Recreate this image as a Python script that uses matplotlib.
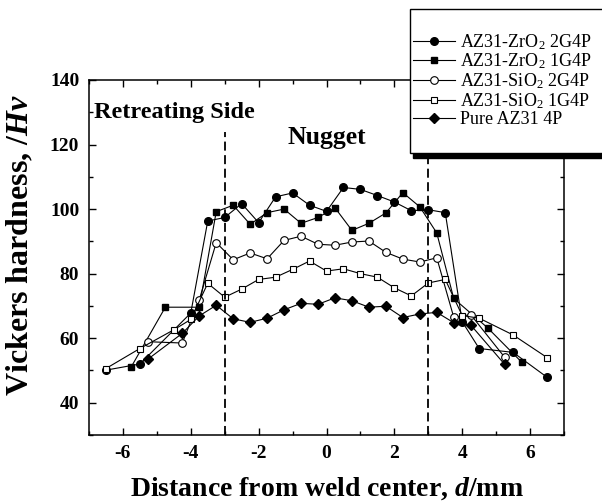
import numpy as np
import matplotlib
matplotlib.use('Agg')
import matplotlib.pyplot as plt
from matplotlib.ticker import MultipleLocator
from matplotlib.patches import Rectangle

plt.rcParams['font.family'] = 'Liberation Serif'
plt.rcParams['mathtext.fontset'] = 'custom'
plt.rcParams['mathtext.rm'] = 'Liberation Serif'
plt.rcParams['mathtext.it'] = 'Liberation Serif:italic:bold'
plt.rcParams['mathtext.bf'] = 'Liberation Serif:bold'
plt.rcParams['axes.unicode_minus'] = False

# hardness profiles (d in mm, Hv)
x_zr2 = [-6.5, -5.5, -4.0, -3.5, -3.0, -2.5, -2.0, -1.5, -1.0, -0.5, 0.0,
         0.5, 1.0, 1.5, 2.0, 2.5, 3.0, 3.5, 4.0, 4.5, 5.5, 6.5]
hv_zr2 = [50.1, 52.0, 67.8, 96.3, 97.4, 101.7, 95.8, 103.8, 105.0, 101.2, 99.3,
          106.7, 106.1, 104.2, 102.2, 99.5, 99.8, 98.9, 65.1, 56.8, 55.6, 47.9]

x_zr1 = [-5.75, -4.75, -3.75, -3.25, -2.75, -2.25, -1.75, -1.25, -0.75, -0.25,
         0.25, 0.75, 1.25, 1.75, 2.25, 2.75, 3.25, 3.75, 4.75, 5.75]
hv_zr1 = [51.2, 69.6, 69.6, 99.2, 101.2, 95.3, 98.9, 100.0, 95.6, 97.4,
          100.4, 93.4, 95.6, 98.8, 105.1, 100.7, 92.6, 72.3, 63.2, 52.6]

x_si2 = [-5.25, -4.25, -3.75, -3.25, -2.75, -2.25, -1.75, -1.25, -0.75, -0.25,
         0.25, 0.75, 1.25, 1.75, 2.25, 2.75, 3.25, 3.75, 4.25, 5.25]
hv_si2 = [58.9, 58.5, 71.9, 89.6, 84.3, 86.4, 84.6, 90.3, 91.6, 89.1,
          88.8, 89.8, 90.1, 86.6, 84.5, 83.6, 84.9, 66.5, 67.3, 54.1]

x_si1 = [-6.5, -5.5, -4.5, -4.0, -3.5, -3.0, -2.5, -2.0, -1.5, -1.0, -0.5, 0.0,
         0.5, 1.0, 1.5, 2.0, 2.5, 3.0, 3.5, 4.0, 4.5, 5.5, 6.5]
hv_si1 = [50.6, 56.8, 62.6, 65.8, 77.0, 72.7, 75.2, 78.2, 78.9, 81.3, 83.9, 80.8,
          81.5, 80.0, 78.9, 75.6, 73.1, 77.1, 78.2, 67.0, 66.2, 61.0, 54.0]

x_pure = [-5.25, -4.25, -3.75, -3.25, -2.75, -2.25, -1.75, -1.25, -0.75, -0.25,
          0.25, 0.75, 1.25, 1.75, 2.25, 2.75, 3.25, 3.75, 4.25, 5.25]
hv_pure = [53.6, 61.5, 66.9, 70.2, 66.0, 64.9, 66.2, 68.8, 70.8, 70.5,
           72.5, 71.6, 69.6, 69.9, 66.4, 67.5, 68.0, 64.8, 64.1, 51.9]

labels = ['AZ31-ZrO$_2$ 2G4P', 'AZ31-ZrO$_2$ 1G4P', 'AZ31-SiO$_2$ 2G4P',
          'AZ31-SiO$_2$ 1G4P', 'Pure AZ31 4P']

W, H = 602, 503
fig = plt.figure(figsize=(W/100, H/100), dpi=100)
ax = fig.add_axes([89/W, 68/H, 475/W, 355/H])

lw = 0.8
ax.plot(x_zr2, hv_zr2, '-o', color='k', mfc='k', ms=5.5, lw=lw, label=labels[0])
ax.plot(x_zr1, hv_zr1, '-s', color='k', mfc='k', ms=5, lw=lw, label=labels[1])
ax.plot(x_si2, hv_si2, '-o', color='k', mfc='white', ms=5.5, mew=0.8, lw=lw, label=labels[2])
ax.plot(x_si1, hv_si1, '-s', color='k', mfc='white', ms=5, mew=0.8, lw=lw, label=labels[3])
ax.plot(x_pure, hv_pure, '-D', color='k', mfc='k', ms=5, lw=lw, label=labels[4])

# zone boundaries
ax.vlines([-3, 3], 30, 124, colors='k', linestyles=(0, (5, 2.5)), lw=1.3)

ax.text(-6.85, 130, 'Retreating Side', fontsize=17.5, fontweight='bold', va='center', ha='left')
ax.text(0, 122.3, 'Nugget', fontsize=18.5, fontweight='bold', va='center', ha='center')

ax.set_xlim(-7, 7)
ax.set_ylim(30, 140)
ax.xaxis.set_major_locator(MultipleLocator(2))
ax.xaxis.set_minor_locator(MultipleLocator(1))
ax.yaxis.set_major_locator(MultipleLocator(20))
ax.yaxis.set_minor_locator(MultipleLocator(10))
ax.tick_params(which='both', direction='in', top=True, right=True, width=1.0)
ax.tick_params(which='major', length=5, labelsize=14, pad=7)
ax.tick_params(which='minor', length=3)
for lab in ax.get_xticklabels() + ax.get_yticklabels():
    lab.set_fontweight('bold')
for s in ax.spines.values():
    s.set_linewidth(1.1)

ax.set_xlabel('Distance from weld center, $d$/mm', fontsize=20, fontweight='bold', labelpad=10)
ax.set_ylabel('Vickers hardness, /$Hv$', fontsize=23, fontweight='bold')
ax.yaxis.set_label_coords(-54/475, 0.535)

# legend box with a solid shadow, partly running off the right edge
shadow = Rectangle((413/W, 1 - 158/H), 200/W, 144/H, transform=fig.transFigure,
                   facecolor='k', edgecolor='k', zorder=4)
box = Rectangle((410/W, 1 - 153/H), 200/W, 144/H, transform=fig.transFigure,
                facecolor='white', edgecolor='k', lw=1.0, zorder=4.5)
fig.patches.extend([shadow, box])

handles, labs = ax.get_legend_handles_labels()
leg = fig.legend(handles, labs, loc='center left', bbox_to_anchor=(413/W, 1 - 80/H),
                 fontsize=13, handlelength=2.3, labelspacing=0.0, handletextpad=0.3,
                 borderpad=0, borderaxespad=0, frameon=False)
leg.set_zorder(5)

fig.savefig('out.png', dpi=100)
